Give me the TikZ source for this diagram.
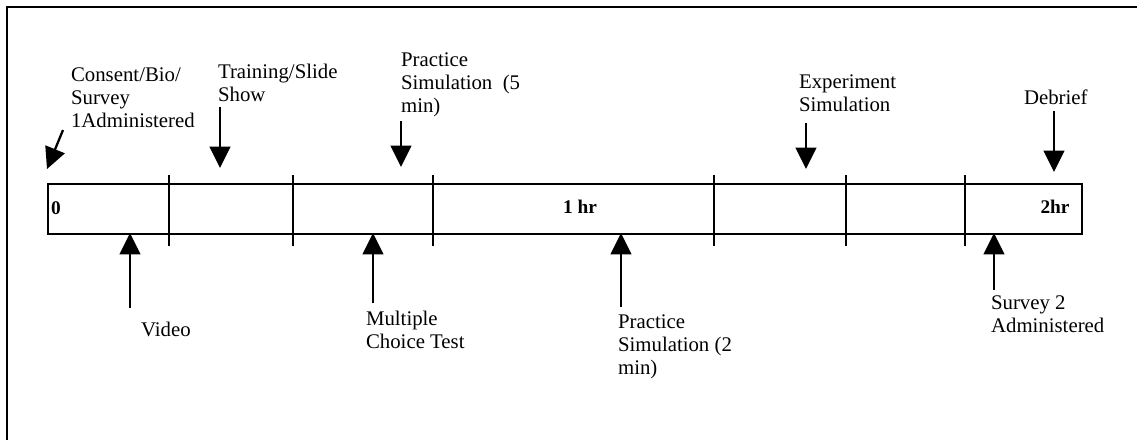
\documentclass[tikz,border=0pt]{standalone}
\usepackage{fontspec}
\setmainfont{Liberation Serif}
\usetikzlibrary{arrows.meta}
\begin{document}
\begin{tikzpicture}[x=0.75pt,y=-0.75pt,
  line width=1.6pt,
  lbl/.style={align=left,anchor=north west,inner sep=0pt,
    font=\fontsize{15.6}{17.25}\selectfont},
  hour/.style={inner sep=0pt,font=\fontsize{14.5}{16}\selectfont\bfseries},
  evt/.style={-{Triangle[width=15.5pt,length=16pt]},line width=1.7pt},
  divider/.style={line width=1.6pt},
  bar/.style={draw,line width=1.6pt,minimum width=1034*0.75pt,
    minimum height=50*0.75pt,inner sep=0pt,anchor=north west}]
\useasboundingbox (0,0) rectangle (1137,440);

% frame edges
\draw[line width=1.8pt] (7,440) -- (7,7) -- (1137,7);

% the two-hour timeline bar
\node[bar] (bar) at (47,183) {};
\foreach \x [count=\i] in {169,293,433,714,846,965}
  \draw[divider] (\x,175) coordinate (d\i top) -- (\x,246) coordinate (d\i bot);

\node[hour] (h0) at (56,208) {0};
\node[hour] (h1) at (580,207) {1 hr};
\node[hour] (h2) at (1055,207) {2hr};

% events above the bar
\node[lbl] (consent) at (70,67) {Consent/Bio/\\Survey\\1Administered};
\node[lbl] (training) at (217,63) {Training/Slide\\Show};
\node[lbl] (prac5) at (400,52) {Practice\\Simulation~ (5\\min)};
\node[lbl] (exper) at (798,74) {Experiment\\Simulation};
\node[lbl] (debrief) at (1023,89) {Debrief};

\coordinate (consentA) at (63,130);  \coordinate (consentB) at (47,169);
\coordinate (trainingA) at (220,107); \coordinate (trainingB) at (220,168);
\coordinate (prac5A) at (401,121);   \coordinate (prac5B) at (401,167);
\coordinate (experA) at (806,123);   \coordinate (experB) at (806,169);
\coordinate (debriefA) at (1054,111); \coordinate (debriefB) at (1054,172);

\draw[evt] (consentA) -- (consentB);
\draw[evt] (trainingA) -- (trainingB);
\draw[evt] (prac5A) -- (prac5B);
\draw[evt] (experA) -- (experB);
\draw[evt] (debriefA) -- (debriefB);

% events below the bar
\node[lbl] (video) at (140,321) {Video};
\node[lbl] (mct) at (365,310) {Multiple\\Choice Test};
\node[lbl] (prac2) at (617,314) {Practice\\Simulation (2\\min)};
\node[lbl] (survey2) at (990,295) {Survey 2\\Administered};

\coordinate (videoA) at (130,308);   \coordinate (videoB) at (130,233);
\coordinate (mctA) at (373,303);     \coordinate (mctB) at (373,233);
\coordinate (prac2A) at (621,307);   \coordinate (prac2B) at (621,233);
\coordinate (survey2A) at (994,290); \coordinate (survey2B) at (994,233);

\draw[evt] (videoA) -- (videoB);
\draw[evt] (mctA) -- (mctB);
\draw[evt] (prac2A) -- (prac2B);
\draw[evt] (survey2A) -- (survey2B);
\end{tikzpicture}
\end{document}
